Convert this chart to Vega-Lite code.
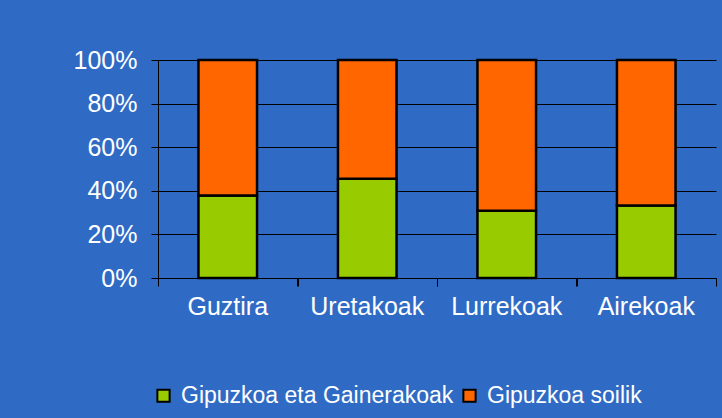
{
  "$schema": "https://vega.github.io/schema/vega-lite/v6.json",
  "width": 558,
  "height": 218,
  "autosize": {"type": "none"},
  "padding": {"left": 158, "top": 60, "right": 6, "bottom": 140},
  "background": "#2f6bc4",
  "config": {
    "view": {"stroke": null},
    "font": "Liberation Sans"
  },
  "data": {
    "values": [
      {"cat": "Guztira", "series": "Gipuzkoa eta Gainerakoak", "k": 1, "v": 37.8},
      {"cat": "Guztira", "series": "Gipuzkoa soilik", "k": 2, "v": 62.2},
      {"cat": "Uretakoak", "series": "Gipuzkoa eta Gainerakoak", "k": 1, "v": 45.5},
      {"cat": "Uretakoak", "series": "Gipuzkoa soilik", "k": 2, "v": 54.5},
      {"cat": "Lurrekoak", "series": "Gipuzkoa eta Gainerakoak", "k": 1, "v": 30.9},
      {"cat": "Lurrekoak", "series": "Gipuzkoa soilik", "k": 2, "v": 69.1},
      {"cat": "Airekoak", "series": "Gipuzkoa eta Gainerakoak", "k": 1, "v": 33.3},
      {"cat": "Airekoak", "series": "Gipuzkoa soilik", "k": 2, "v": 66.7}
    ]
  },
  "resolve": {"axis": {"x": "independent"}},
  "layer": [
    {
      "mark": {"type": "bar", "opacity": 0},
      "encoding": {
        "x": {
          "field": "cat",
          "type": "nominal",
          "sort": null,
          "scale": {"paddingInner": 0.58, "paddingOuter": 0.29},
          "axis": {
            "orient": "bottom",
            "title": null,
            "labels": false,
            "domain": false,
            "ticks": true,
            "tickColor": "black",
            "tickWidth": 1,
            "tickSize": 8,
            "bandPosition": 0,
            "tickOffset": -40.5,
            "grid": false
          }
        }
      }
    },
    {
      "mark": {"type": "bar", "opacity": 0},
      "encoding": {
        "x": {
          "field": "cat",
          "type": "nominal",
          "sort": null,
          "axis": {
            "orient": "bottom",
            "title": null,
            "labels": false,
            "domain": false,
            "ticks": true,
            "tickColor": "black",
            "tickWidth": 1,
            "tickSize": 8,
            "bandPosition": 1,
            "tickOffset": 40.5,
            "grid": false
          }
        }
      }
    },
    {
      "mark": {"type": "bar", "stroke": "black", "strokeWidth": 2.5},
      "encoding": {
        "x": {
          "field": "cat",
          "type": "nominal",
          "sort": null,
          "axis": {
            "orient": "bottom",
            "title": null,
            "labelAngle": 0,
            "labelColor": "white",
            "labelFontSize": 25,
            "labelPadding": 16,
            "domainColor": "black",
            "domainWidth": 1,
            "ticks": false,
            "grid": false
          }
        },
        "y": {
          "field": "v",
          "type": "quantitative",
          "stack": "normalize",
          "scale": {"domain": [0, 1], "nice": false},
          "axis": {
            "title": null,
            "format": ".0%",
            "values": [0, 0.2, 0.4, 0.6, 0.8, 1],
            "labelColor": "white",
            "labelFontSize": 25,
            "labelPadding": 14,
            "domainColor": "black",
            "domainWidth": 1,
            "tickColor": "black",
            "tickSize": 7,
            "grid": true,
            "gridColor": "black",
            "gridOpacity": 1,
            "gridWidth": 1
          }
        },
        "order": {"field": "k", "type": "quantitative", "sort": "ascending"},
        "color": {
          "field": "series",
          "type": "nominal",
          "scale": {
            "domain": ["Gipuzkoa eta Gainerakoak", "Gipuzkoa soilik"],
            "range": ["#99cc00", "#ff6600"]
          },
          "legend": {
            "title": null,
            "orient": "none",
            "legendX": -6,
            "legendY": 324,
            "direction": "horizontal",
            "columns": 2,
            "padding": 0,
            "columnPadding": 4,
            "symbolType": "square",
            "symbolSize": 150,
            "symbolStrokeColor": "black",
            "symbolStrokeWidth": 2,
            "symbolOpacity": 1,
            "labelColor": "white",
            "labelFontSize": 23,
            "labelOffset": 6,
            "labelLimit": 400
          }
        }
      }
    }
  ]
}
